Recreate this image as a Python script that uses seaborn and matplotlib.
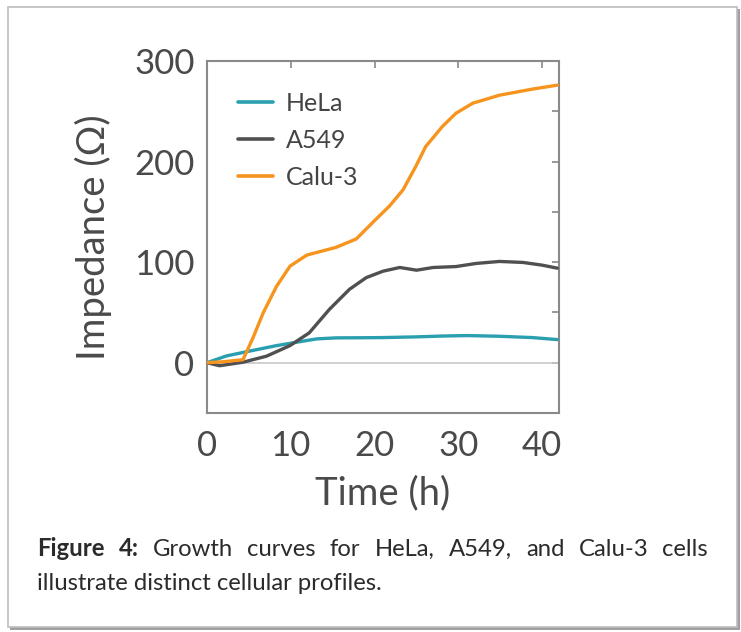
import numpy as np
import pandas as pd
import matplotlib
matplotlib.use('Agg')
import matplotlib.pyplot as plt
import seaborn as sns
from matplotlib.patches import Rectangle

# values
hela_t = [0, 2.3, 5.1, 8.3, 10.7, 13.1, 15.4, 18, 21, 25, 28, 31, 34.9, 38.8, 41.8]
hela_z = [0, 6.7, 11.6, 17, 20.4, 23.7, 24.7, 24.8, 25, 25.7, 26.5, 27, 26.3, 25, 23]

a549_t = [0, 1.5, 4.3, 7.1, 9.9, 12.2, 14.6, 17, 19, 21, 23, 25, 27, 29.7, 32.1, 34.9, 37.7, 40, 41.8]
a549_z = [0, -3, 0.5, 6.5, 17, 29.7, 53, 73, 84.6, 91, 94.7, 92, 94.7, 95.6, 98.7, 100.7, 99.7, 97, 94]

calu_t = [0, 2, 4.3, 5.5, 6.7, 8.3, 9.9, 11.9, 15.4, 17.8, 20.2, 21.8, 23.4, 24.9, 26.1,
          28.1, 29.7, 31.7, 34.9, 38.8, 41.8]
calu_z = [0, 1, 3, 25, 49.5, 76, 96, 107, 114.7, 123, 143, 156, 172, 195, 215,
          235, 248, 258, 266, 272, 276]

names = ['HeLa', 'A549', 'Calu-3']
colors = {'HeLa': '#2a9fb0', 'A549': '#505050', 'Calu-3': '#f7941d'}

df = pd.concat([
    pd.DataFrame({'t': hela_t, 'z': hela_z, 'cell': 'HeLa'}),
    pd.DataFrame({'t': a549_t, 'z': a549_z, 'cell': 'A549'}),
    pd.DataFrame({'t': calu_t, 'z': calu_z, 'cell': 'Calu-3'}),
])

sns.set_style('white')
plt.rcParams['font.family'] = ['Lato', 'DejaVu Sans']

fig = plt.figure(figsize=(7.41, 6.32), dpi=100)

# frame with shadow
fig.patches.append(Rectangle((10 / 741, 1 - 630 / 632), 730 / 741, 621 / 632, transform=fig.transFigure,
                             facecolor='#a0a0a0', edgecolor='none', zorder=0))
fig.patches.append(Rectangle((8 / 741, 1 - 627 / 632), 729 / 741, 620 / 632, transform=fig.transFigure,
                             facecolor='white', edgecolor='#bdbdbd', lw=1.2, zorder=0.5))

ax = fig.add_axes([207 / 741, 1 - 413 / 632, 352 / 741, 352 / 632])
ax.set_zorder(3)

ax.axhline(0, color='#c8c8c8', lw=1.2, zorder=1)
sns.lineplot(data=df, x='t', y='z', hue='cell', hue_order=names, palette=colors,
             lw=2.4, ax=ax, zorder=3)

ax.set_xlim(0, 42)
ax.set_ylim(-50, 300)
ax.set_xticks([0, 10, 20, 30, 40])
yt = list(range(-50, 301, 50))
ax.set_yticks(yt)
ax.set_yticklabels(['' if v % 100 else str(v) for v in yt])
ax.tick_params(direction='in', length=5, width=1.2, color='#888888', top=True, right=True,
               labelsize=25, labelcolor='#4a4a4a')
ax.tick_params(axis='y', pad=9)
ax.tick_params(axis='x', pad=12)
for s in ax.spines.values():
    s.set_color('#8a8a8a')
    s.set_linewidth(1.5)

ax.set_xlabel('Time (h)', fontsize=27.5, color='#4a4a4a', labelpad=10)
ax.set_ylabel('Impedance (Ω)', fontsize=27.5, color='#4a4a4a', labelpad=16)

leg = ax.legend(loc='upper left', bbox_to_anchor=(0.06, 0.94), frameon=False, fontsize=18,
                handlelength=1.4, handletextpad=0.5, labelspacing=0.56, borderaxespad=0)
for t in leg.get_texts():
    t.set_color('#444444')
for h in leg.get_lines():
    h.set_linewidth(2.6)

# caption, first line justified, size fitted to the second line's width
cap_font = ['Lato', 'DejaVu Sans']
cap_color = '#2b2b2b'
line2 = 'illustrate distinct cellular profiles.'
x0, x1 = 37, 708
renderer = fig.canvas.get_renderer()
probe = fig.text(0, 0, line2, fontsize=10, family=cap_font)
cap_size = 10 * 346 / probe.get_window_extent(renderer).width
probe.remove()

words = [('Figure', 'bold'), ('4:', 'bold'), ('Growth', 'normal'), ('curves', 'normal'),
         ('for', 'normal'), ('HeLa,', 'normal'), ('A549,', 'normal'), ('and', 'normal'),
         ('Calu-3', 'normal'), ('cells', 'normal')]
y1 = 1 - 549 / 632
texts = []
widths = []
for w, wt in words:
    t = fig.text(0, y1, w, fontsize=cap_size, fontweight=wt, family=cap_font, color=cap_color,
                 va='center', ha='left', zorder=4)
    texts.append(t)
    widths.append(t.get_window_extent(renderer).width)
gap = (x1 - x0 - sum(widths)) / (len(words) - 1)
x = x0
for t, w in zip(texts, widths):
    t.set_x(x / 741)
    x += w + gap
fig.text(x0 / 741, 1 - 584 / 632, line2, fontsize=cap_size,
         family=cap_font, color=cap_color, va='center', ha='left', zorder=4)

fig.savefig('out.png', dpi=100)
